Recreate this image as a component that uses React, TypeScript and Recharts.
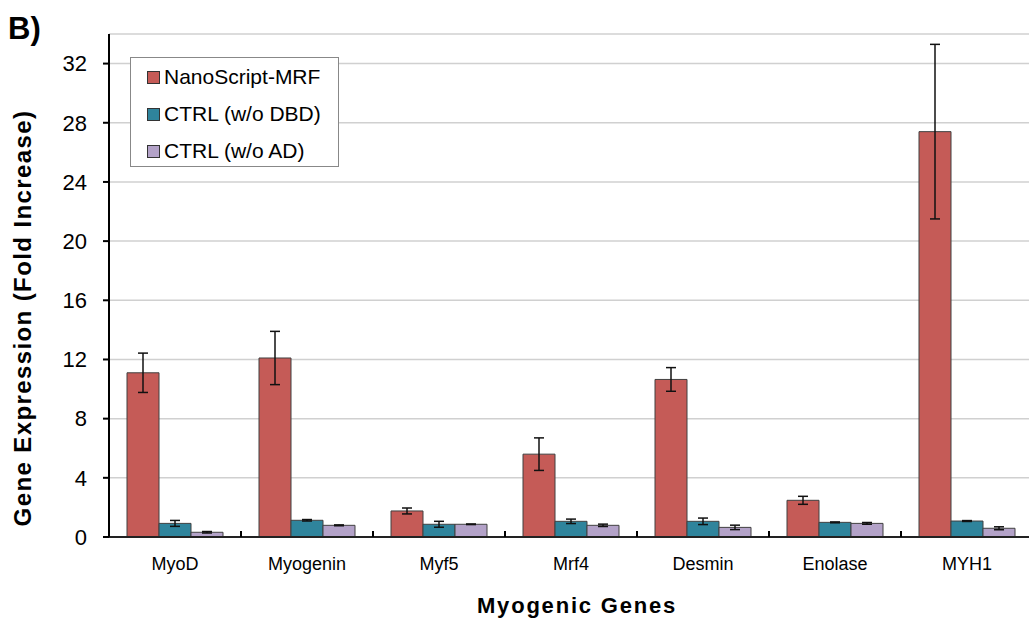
import React from 'react';
import { BarChart, Bar, XAxis, YAxis, CartesianGrid, ErrorBar, Legend } from 'recharts';

const genes = ['MyoD', 'Myogenin', 'Myf5', 'Mrf4', 'Desmin', 'Enolase', 'MYH1'];
const seriesNames = ['NanoScript-MRF', 'CTRL (w/o DBD)', 'CTRL (w/o AD)'];

const nanoScript = [11.1, 12.1, 1.76, 5.6, 10.65, 2.48, 27.4];
const nanoScriptErr = [1.33, 1.8, 0.2, 1.1, 0.8, 0.27, 5.9];

const ctrlDbd = [0.92, 1.13, 0.86, 1.06, 1.06, 0.99, 1.08];
const ctrlDbdErr = [0.2, 0.05, 0.2, 0.15, 0.22, 0.03, 0.03];

const ctrlAd = [0.32, 0.79, 0.86, 0.79, 0.65, 0.92, 0.59];
const ctrlAdErr = [0.05, 0.03, 0.02, 0.08, 0.15, 0.06, 0.1];

const yTicks = [0, 4, 8, 12, 16, 20, 24, 28, 32];

const data = genes.map((gene, i) => ({
  gene,
  nano: nanoScript[i],
  nanoErr: nanoScriptErr[i],
  dbd: ctrlDbd[i],
  dbdErr: ctrlDbdErr[i],
  ad: ctrlAd[i],
  adErr: ctrlAdErr[i],
}));

const FONT = '"Liberation Sans", Arial, sans-serif';
const W = 1040;
const H = 622;
const LEFT = 109;
const RIGHT = 7;
const BAND = (W - LEFT - RIGHT) / genes.length;

function GeneTick(props: any) {
  const { x, y, payload } = props;
  return (
    <g>
      <line x1={x + BAND / 2} x2={x + BAND / 2} y1={y} y2={y - 6} stroke="#000" strokeWidth={2} />
      <text x={x} y={y + 33} textAnchor="middle" fontSize={18} fontFamily={FONT} fill="#000">
        {payload.value}
      </text>
    </g>
  );
}

function LegendBox(props: any) {
  // keep the series order of the original legend
  const items = [...(props.payload || [])].sort(
    (a: any, b: any) => seriesNames.indexOf(a.value) - seriesNames.indexOf(b.value)
  );
  return (
    <div
      style={{
        width: 207,
        height: 108,
        border: '1px solid #888',
        background: '#fff',
        fontFamily: FONT,
        fontSize: 21,
        color: '#000',
        position: 'relative',
      }}
    >
      {items.map((p: any, i: number) => (
        <div key={p.value} style={{ position: 'absolute', left: 16, top: 6 + i * 37, height: 26, display: 'flex', alignItems: 'center' }}>
          <span style={{ width: 11, height: 11, background: p.color, border: '1px solid #333', marginRight: 4 }} />
          <span>{p.value}</span>
        </div>
      ))}
    </div>
  );
}

export default function App() {
  return (
    <div style={{ position: 'absolute', left: 0, top: 0, width: 1029, height: 622, overflow: 'hidden', background: '#fff' }}>
      <div style={{ position: 'absolute', left: 8, top: 14, fontFamily: FONT, fontWeight: 'bold', fontSize: 31, lineHeight: '30px', zIndex: 2 }}>
        B)
      </div>
      <BarChart
        width={W}
        height={H}
        data={data}
        margin={{ top: 34, right: RIGHT, bottom: 0, left: 0 }}
        barCategoryGap={18}
        barGap={0}
      >
        <CartesianGrid vertical={false} stroke="#d0d0d0" strokeWidth={1.5} />
        <XAxis
          dataKey="gene"
          height={85}
          tickSize={0}
          tickMargin={0}
          tickLine={false}
          tick={<GeneTick />}
          axisLine={{ stroke: '#222', strokeWidth: 2 }}
          interval={0}
          label={{
            content: () => (
              <text x={577} y={613} textAnchor="middle" fontFamily={FONT} fontWeight="bold" fontSize={22} letterSpacing={1.8} fill="#000">
                Myogenic Genes
              </text>
            ),
          }}
        />
        <XAxis xAxisId="top" orientation="top" dataKey="gene" height={0} tick={false} tickLine={false} axisLine={{ stroke: '#000', strokeWidth: 2 }} />
        <YAxis
          width={LEFT}
          domain={[0, 34]}
          ticks={yTicks}
          interval={0}
          tickSize={6}
          tickMargin={16}
          tickLine={{ stroke: '#000', strokeWidth: 2 }}
          axisLine={{ stroke: '#000', strokeWidth: 2 }}
          tick={{ fill: '#000', fontSize: 22, fontFamily: FONT }}
          label={{
            content: () => (
              <text
                x={31}
                y={318}
                transform="rotate(-90 31 318)"
                textAnchor="middle"
                fontFamily={FONT}
                fontWeight="bold"
                fontSize={24}
                letterSpacing={1.4}
                fill="#000"
              >
                Gene Expression (Fold Increase)
              </text>
            ),
          }}
        />
        <Legend
          layout="horizontal"
          verticalAlign="middle"
          align="center"
          wrapperStyle={{ left: 130, top: 57, width: 'auto', height: 'auto' }}
          content={<LegendBox />}
        />
        <Bar dataKey="nano" name={seriesNames[0]} fill="#c55b57" stroke="#404040" strokeWidth={1} isAnimationActive={false}>
          <ErrorBar dataKey="nanoErr" width={5} stroke="#111" strokeWidth={1.5} />
        </Bar>
        <Bar dataKey="dbd" name={seriesNames[1]} fill="#2f849c" stroke="#404040" strokeWidth={1} isAnimationActive={false}>
          <ErrorBar dataKey="dbdErr" width={5} stroke="#111" strokeWidth={1.5} />
        </Bar>
        <Bar dataKey="ad" name={seriesNames[2]} fill="#b3a2c8" stroke="#404040" strokeWidth={1} isAnimationActive={false}>
          <ErrorBar dataKey="adErr" width={5} stroke="#111" strokeWidth={1.5} />
        </Bar>
      </BarChart>
    </div>
  );
}
